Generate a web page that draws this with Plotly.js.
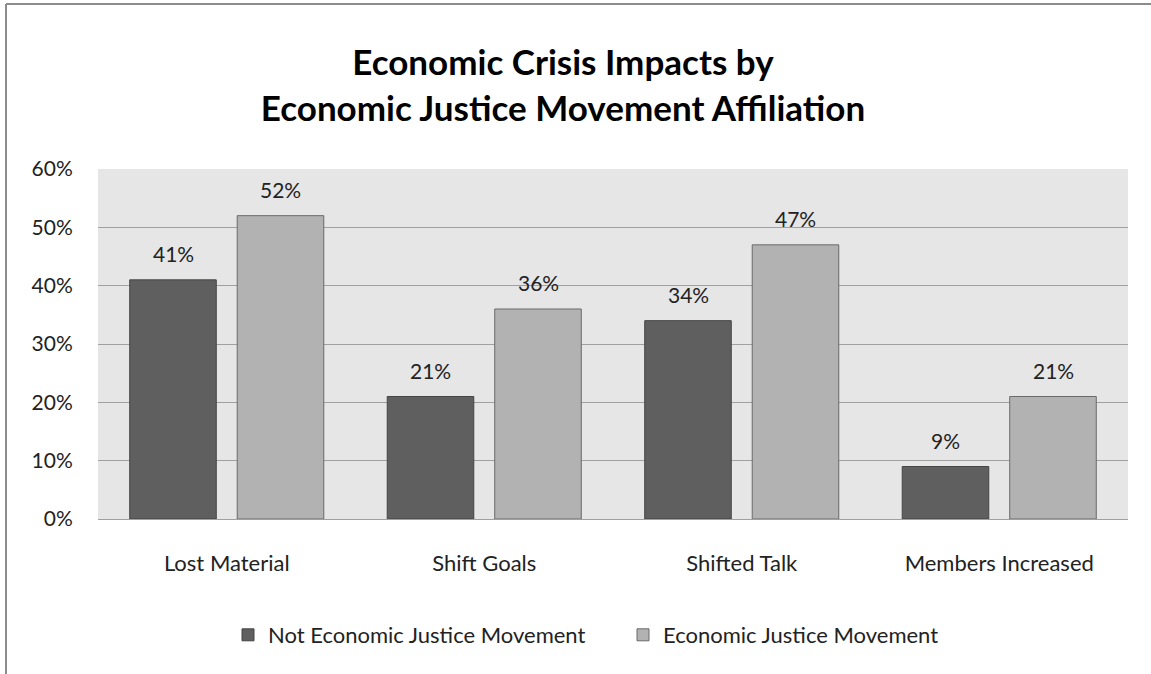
<!DOCTYPE html>
<html>
<head>
<meta charset="utf-8">
<script src="https://cdn.plot.ly/plotly-3.0.1.min.js"></script>
<style>html,body{margin:0;padding:0;background:#fff;}#chart{width:1151px;height:674px;}</style>
</head>
<body>
<div id="chart"></div>
<script>
const categories = ["Lost Material", "Shift Goals", "Shifted Talk", "Members Increased"];
const seriesNames = ["Not Economic Justice Movement", "Economic Justice Movement"];
const notEJM = [0.41, 0.21, 0.34, 0.09];
const EJM = [0.52, 0.36, 0.47, 0.21];
const yTickVals = [0, 0.1, 0.2, 0.3, 0.4, 0.5, 0.6];
const yTickText = ["0%", "10%", "20%", "30%", "40%", "50%", "60%"];

const FONT = "Lato, 'Open Sans', sans-serif";
const plotL = 98, plotR = 1128, plotT = 169, plotB = 519;
const W = 1151, H = 674;
const pw = plotR - plotL, ph = plotB - plotT;
const px2x = p => (p - plotL) / pw;
const py2y = p => (plotB - p) / ph;

const traces = [
  {type: "bar", name: seriesNames[0], x: categories, y: notEJM,
   marker: {color: "#5f5f5f", line: {color: "#454545", width: 1}}, hoverinfo: "none"},
  {type: "bar", name: seriesNames[1], x: categories, y: EJM,
   marker: {color: "#b2b2b2", line: {color: "#6a6a6a", width: 1}}, hoverinfo: "none"}
];

const annotations = [];
const groupSeries = [notEJM, EJM];
const offs = [-53.75, 53.75];
groupSeries.forEach((vals, si) => {
  vals.forEach((v, i) => {
    annotations.push({x: categories[i], y: v, xref: "x", yref: "y",
      text: Math.round(v * 100) + "%", showarrow: false, xshift: offs[si], yshift: 12,
      yanchor: "bottom", font: {family: FONT, size: 21, color: "#222"}});
  });
});

const layout = {
  width: W, height: H,
  margin: {l: plotL, r: W - plotR, t: plotT, b: H - plotB},
  paper_bgcolor: "#ffffff",
  plot_bgcolor: "#e6e6e6",
  font: {family: FONT, color: "#222"},
  title: {text: "Economic Crisis Impacts by<br>Economic Justice Movement Affiliation",
          x: 563 / W, xref: "container", xanchor: "center",
          y: 1 - 75 / H, yref: "container", yanchor: "top",
          font: {family: FONT, size: 35, color: "#000", weight: "bold"}},
  barmode: "group", bargap: 0.165, bargroupgap: 0.195,
  xaxis: {type: "category", showgrid: false, zeroline: false, showline: false,
          ticks: "outside", ticklen: 25, tickcolor: "rgba(0,0,0,0)",
          tickfont: {family: FONT, size: 22, color: "#222"}, fixedrange: true},
  yaxis: {range: [0, 0.6], tickvals: yTickVals, ticktext: yTickText,
          showgrid: true, gridcolor: "#a0a0a0", gridwidth: 1, zeroline: true, zerolinecolor: "#a0a0a0",
          showline: false, ticks: "outside", ticklen: 20, tickcolor: "rgba(0,0,0,0)",
          tickfont: {family: FONT, size: 21, color: "#222"}, fixedrange: true},
  showlegend: true,
  legend: {orientation: "h", x: px2x(240 - 12), xanchor: "left", y: py2y(635), yanchor: "middle",
           font: {family: FONT, size: 22, color: "#222"}, traceorder: "normal", itemwidth: 30,
           entrywidth: 350, entrywidthmode: "pixels"},
  annotations: annotations,
  shapes: [
    {type: "line", xref: "paper", yref: "paper", x0: px2x(6), x1: px2x(W), y0: py2y(4), y1: py2y(4),
     line: {color: "#8c8c8c", width: 2}},
    {type: "line", xref: "paper", yref: "paper", x0: px2x(6), x1: px2x(6), y0: py2y(4), y1: py2y(H),
     line: {color: "#8c8c8c", width: 2}}
  ]
};

Plotly.newPlot("chart", traces, layout, {displayModeBar: false, staticPlot: true});
</script>
</body>
</html>
